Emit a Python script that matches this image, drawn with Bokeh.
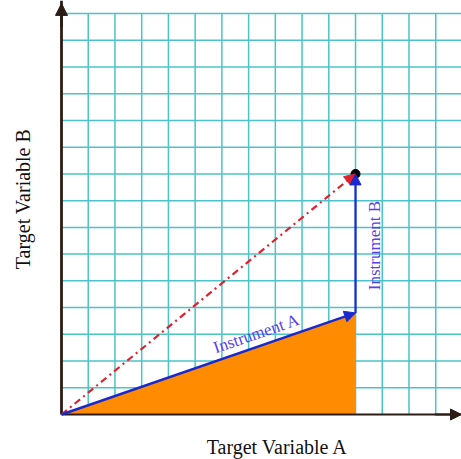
from bokeh.plotting import figure
from bokeh.models import Range1d, Arrow, NormalHead, Label, FixedTicker
from bokeh.embed import file_html
from bokeh.resources import INLINE
import numpy as np

# ---- data ----
instrument_a = [11.0, 3.8]      # (x, y) of Instrument A vector
instrument_b = [0.0, 5.2]       # Instrument B vector (added to A)
grid_x = list(range(1, 15))     # vertical grid lines
grid_y = list(range(1, 16))     # horizontal grid lines
x_label = "Target Variable A"
y_label = "Target Variable B"
label_a = "Instrument A"
label_b = "Instrument B"

target = [instrument_a[0] + instrument_b[0], instrument_a[1] + instrument_b[1]]

UNIT = 26.73          # pixels per grid unit
X_START, X_END = -61 / UNIT, (461 - 61) / UNIT
Y_START, Y_END = -(459 - 414) / UNIT, 414 / UNIT
GRID_TOP = 15

p = figure(width=461, height=459, output_backend="svg", toolbar_location=None,
           x_range=Range1d(X_START, X_END), y_range=Range1d(Y_START, Y_END),
           min_border=0, outline_line_color=None,
           background_fill_color="white", border_fill_color="white")
p.xgrid.visible = False
p.ygrid.visible = False
for ax in (p.xaxis, p.yaxis):
    ax.ticker = FixedTicker(ticks=[])
    ax.major_tick_line_color = None
    ax.minor_tick_line_color = None
    ax.major_tick_out = 0
    ax.major_tick_in = 0
    ax.major_label_standoff = 0
    ax.fixed_location = 0
    ax.axis_line_color = "#2b1d16"
p.xaxis.bounds = (0, X_END)
p.yaxis.bounds = (0, Y_END)
p.xaxis.axis_line_width = 2.2
p.yaxis.axis_line_width = 2.8

grid_color = "#4cc3c8"
p.segment(x0=grid_x, y0=[0] * len(grid_x), x1=grid_x, y1=[GRID_TOP] * len(grid_x),
          line_color=grid_color, line_width=1.5)
p.segment(x0=[0] * len(grid_y), y0=grid_y, x1=[X_END] * len(grid_y), y1=grid_y,
          line_color=grid_color, line_width=1.5)

# orange triangle under Instrument A
p.patch(x=[0, instrument_a[0], instrument_a[0]], y=[0, 0, instrument_a[1]],
        fill_color="#ff8c00", line_color=None)

# axis arrowheads
p.add_layout(Arrow(x_start=0, y_start=GRID_TOP - 0.5, x_end=0, y_end=15.38,
                   line_color="#2b1d16", line_width=2.8,
                   end=NormalHead(size=12, fill_color="#2b1d16", line_color="#2b1d16")))
p.add_layout(Arrow(x_start=X_END - 1, y_start=0, x_end=X_END, y_end=0,
                   line_color="#2b1d16", line_width=2.2,
                   end=NormalHead(size=11, fill_color="#2b1d16", line_color="#2b1d16")))

# red dash-dot resultant
p.add_layout(Arrow(x_start=0, y_start=0, x_end=target[0], y_end=target[1],
                   line_color="#e0202c", line_width=2.2, line_dash="7 4 2 4",
                   end=NormalHead(size=11, fill_color="#e0202c", line_color="#e0202c")))

blue = "#1a28d0"
p.add_layout(Arrow(x_start=0, y_start=0, x_end=instrument_a[0], y_end=instrument_a[1],
                   line_color=blue, line_width=2.5,
                   end=NormalHead(size=11, fill_color=blue, line_color=blue)))
p.add_layout(Arrow(x_start=instrument_a[0], y_start=instrument_a[1],
                   x_end=target[0], y_end=target[1],
                   line_color=blue, line_width=2.2,
                   end=NormalHead(size=11, fill_color=blue, line_color=blue)))

p.scatter(x=[target[0]], y=[target[1]], size=9, fill_color="black", line_color="black")

text_col = "#5a3fe6"
ang = float(np.arctan2(instrument_a[1], instrument_a[0]))
p.add_layout(Label(x=7.3, y=3.03, text=label_a, angle=ang, text_align="center",
                   text_baseline="middle", text_font="Liberation Serif",
                   text_font_size="17px", text_color=text_col))
p.add_layout(Label(x=11.71, y=6.32, text=label_b, angle=np.pi / 2, text_align="center",
                   text_baseline="middle", text_font="Liberation Serif",
                   text_font_size="17px", text_color=text_col))

p.add_layout(Label(x=(277 - 61) / UNIT, y=-(446 - 414) / UNIT, text=x_label,
                   text_align="center", text_baseline="middle",
                   text_font="Liberation Serif", text_font_size="20px",
                   text_color="#111111"))
p.add_layout(Label(x=-(61 - 22) / UNIT, y=(414 - 198.5) / UNIT, text=y_label,
                   angle=np.pi / 2, text_align="center", text_baseline="middle",
                   text_font="Liberation Serif", text_font_size="20px",
                   text_color="#111111"))

open("out.html", "w").write(file_html(p, INLINE))
